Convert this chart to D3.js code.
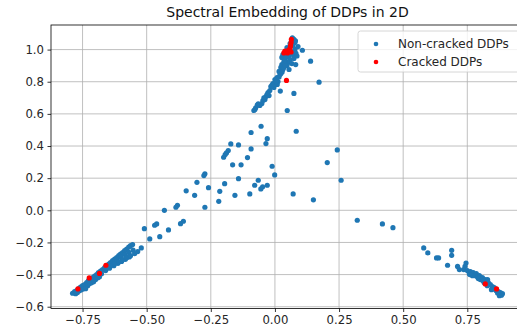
<!DOCTYPE html>
<html>
<head>
<meta charset="utf-8">
<script src="https://cdn.jsdelivr.net/npm/d3@7"></script>
<style>
  html, body { margin: 0; padding: 0; background: #fff; }
  #chart { width: 517px; height: 330px; overflow: hidden; }
  text { font-family: 'DejaVu Sans', sans-serif; }
</style>
</head>
<body>
<div id="chart"></div>
<script>
  var title = 'Spectral Embedding of DDPs in 2D';
  var seriesNames = ['Non-cracked DDPs', 'Cracked DDPs'];
  var xTicks = [-0.75, -0.5, -0.25, 0, 0.25, 0.5, 0.75];
  var yTicks = [-0.6, -0.4, -0.2, 0, 0.2, 0.4, 0.6, 0.8, 1.0];

  // non-cracked points, [x, y]
  var nonCracked = [
    [0.068, 1.073], [0.074, 1.063], [0.078, 1.044], [0.070, 1.026], [0.078, 1.001],
    [0.063, 0.988], [0.055, 0.963], [0.070, 0.969], [0.082, 0.976], [0.031, 0.969],
    [0.027, 0.951], [0.043, 0.951], [0.059, 0.938], [0.074, 0.945], [0.051, 0.920],
    [0.066, 0.913], [0.039, 0.926], [0.090, 1.019], [0.059, 1.038], [0.047, 1.013],
    [0.035, 0.926], [0.027, 0.907], [0.023, 0.889], [0.031, 0.876], [0.016, 0.864],
    [0.020, 0.845], [0.008, 0.826], [0.012, 0.801], [0.000, 0.814], [-0.008, 0.789],
    [-0.004, 0.764], [-0.016, 0.770], [-0.020, 0.745], [-0.027, 0.733], [-0.023, 0.714],
    [-0.035, 0.708], [-0.039, 0.689], [-0.047, 0.683], [-0.051, 0.664], [-0.059, 0.652],
    [-0.065, 0.663], [-0.069, 0.655], [-0.075, 0.638], [-0.078, 0.627], [-0.082, 0.621],
    [0.047, 0.901], [0.035, 0.889], [0.055, 0.876], [0.023, 0.851], [0.009, 0.783],
    [0.021, 0.742], [0.004, 0.800], [-0.012, 0.777], [0.016, 0.830], [-0.031, 0.720],
    [-0.043, 0.700], [0.028, 0.860], [0.040, 0.900], [0.086, 0.960], [0.080, 1.055],
    [0.107, 0.996], [0.139, 0.928], [0.081, 0.907], [0.172, 0.797], [0.074, 0.727],
    [0.048, 0.621],
    [-0.054, 0.523], [-0.093, 0.484], [0.083, 0.492], [-0.030, 0.446], [-0.035, 0.415],
    [-0.172, 0.413], [-0.142, 0.407], [-0.093, 0.382], [-0.182, 0.372], [-0.189, 0.357],
    [-0.194, 0.347], [-0.200, 0.330], [-0.107, 0.328], [0.243, 0.376], [0.204, 0.297],
    [-0.165, 0.283], [-0.132, 0.283], [-0.011, 0.274], [-0.001, 0.220], [-0.273, 0.227],
    [-0.277, 0.216], [-0.304, 0.174], [-0.142, 0.197], [-0.065, 0.187], [-0.196, 0.166],
    [-0.079, 0.156], [-0.030, 0.156], [-0.048, 0.146], [-0.055, 0.133], [0.258, 0.187],
    [-0.346, 0.121], [-0.259, 0.141], [-0.215, 0.118], [-0.313, 0.093], [-0.156, 0.093],
    [-0.098, 0.102], [0.071, 0.102], [0.150, 0.065], [-0.219, 0.056], [-0.380, 0.031],
    [-0.386, 0.019], [-0.273, 0.019], [-0.431, 0.000], [-0.461, -0.085], [-0.469, -0.093],
    [-0.357, -0.068], [-0.368, -0.083], [-0.415, -0.122], [-0.449, -0.164], [-0.488, -0.178],
    [-0.509, -0.114],
    [0.321, -0.062], [0.419, -0.085], [0.460, -0.108], [0.580, -0.234], [0.596, -0.265],
    [0.630, -0.296], [0.638, -0.296], [0.689, -0.249], [0.689, -0.280], [0.673, -0.342],
    [0.712, -0.349], [0.719, -0.369], [0.745, -0.328], [0.741, -0.349], [0.736, -0.369],
    [0.750, -0.375], [0.762, -0.381], [0.773, -0.388], [0.785, -0.394], [0.781, -0.407],
    [0.797, -0.407], [0.809, -0.419], [0.801, -0.431], [0.820, -0.431], [0.832, -0.450],
    [0.840, -0.463], [0.848, -0.475], [0.855, -0.481], [0.844, -0.494], [0.863, -0.500],
    [0.871, -0.506], [0.879, -0.512], [0.887, -0.519], [0.883, -0.528], [0.875, -0.531],
    [0.758, -0.394], [0.770, -0.407], [0.793, -0.425], [0.816, -0.450], [0.828, -0.469],
    [0.829, -0.431], [0.760, -0.400], [0.790, -0.415], [0.812, -0.440], [0.850, -0.490],
    [0.868, -0.515],
    [-0.789, -0.516], [-0.781, -0.506], [-0.773, -0.500], [-0.766, -0.488], [-0.758, -0.478],
    [-0.750, -0.469], [-0.742, -0.463], [-0.734, -0.450], [-0.727, -0.438], [-0.719, -0.428],
    [-0.711, -0.419], [-0.703, -0.410], [-0.695, -0.400], [-0.688, -0.388], [-0.680, -0.379],
    [-0.672, -0.369], [-0.664, -0.357], [-0.656, -0.344], [-0.648, -0.335], [-0.641, -0.326],
    [-0.633, -0.313], [-0.625, -0.304], [-0.617, -0.295], [-0.609, -0.282], [-0.602, -0.273],
    [-0.594, -0.263], [-0.586, -0.251], [-0.578, -0.242], [-0.570, -0.229], [-0.563, -0.220],
    [-0.555, -0.213],
    [-0.777, -0.519], [-0.762, -0.500], [-0.746, -0.488], [-0.730, -0.469], [-0.715, -0.450],
    [-0.699, -0.431], [-0.684, -0.413], [-0.707, -0.444], [-0.738, -0.488],
    [-0.770, -0.512], [-0.754, -0.494], [-0.722, -0.456], [-0.690, -0.419], [-0.676, -0.394],
    [-0.660, -0.375], [-0.645, -0.360], [-0.628, -0.345], [-0.612, -0.330], [-0.598, -0.318],
    [-0.583, -0.305], [-0.568, -0.290], [-0.617, -0.307], [-0.600, -0.290], [-0.585, -0.275],
    [-0.570, -0.262], [-0.553, -0.248],
    [-0.656, -0.357], [-0.641, -0.344], [-0.625, -0.332], [-0.609, -0.319], [-0.594, -0.307],
    [-0.578, -0.295], [-0.563, -0.282], [-0.547, -0.270], [-0.535, -0.257], [-0.521, -0.234]
  ];

  // cracked points, [x, y]
  var cracked = [
    [0.064, 1.063], [0.063, 1.044], [0.061, 1.026], [0.059, 1.010], [0.039, 0.991],
    [0.051, 0.994], [0.063, 0.985], [0.035, 0.979], [0.049, 0.979], [0.045, 0.808],
    [-0.768, -0.489], [-0.724, -0.421], [-0.684, -0.393], [-0.659, -0.342],
    [0.820, -0.458], [0.864, -0.489]
  ];

  function fmtMinus(s) { return s.replace('-', '\u2212'); }

  function createChart() {
    var margin = { top: 25, left: 51 };
    var width = 473;
    var height = 283.5;

    var svg = d3.select('#chart')
      .append('svg')
      .attr('width', 517)
      .attr('height', 330);

    var g = svg.append('g')
      .attr('transform', 'translate(' + margin.left + ',' + margin.top + ')');

    var x = d3.scaleLinear().domain([-0.873, 0.971]).range([0, width]);
    var y = d3.scaleLinear().domain([-0.611, 1.153]).range([height, 0]);

    // grid
    g.append('g').selectAll('line')
      .data(xTicks).enter().append('line')
      .attr('x1', function (d) { return x(d); })
      .attr('x2', function (d) { return x(d); })
      .attr('y1', 0).attr('y2', height)
      .attr('stroke', '#b0b0b0').attr('stroke-width', 0.8);

    g.append('g').selectAll('line')
      .data(yTicks).enter().append('line')
      .attr('y1', function (d) { return y(d); })
      .attr('y2', function (d) { return y(d); })
      .attr('x1', 0).attr('x2', width)
      .attr('stroke', '#b0b0b0').attr('stroke-width', 0.8);

    // axes
    var xAxis = g.append('g')
      .attr('transform', 'translate(0,' + height + ')')
      .call(d3.axisBottom(x).tickValues(xTicks).tickSize(3.5).tickPadding(3.5)
        .tickFormat(function (d) { return fmtMinus(d3.format('.2f')(d)); }));

    var yAxis = g.append('g')
      .call(d3.axisLeft(y).tickValues(yTicks).tickSize(3.5).tickPadding(3.5)
        .tickFormat(function (d) { return fmtMinus(d3.format('.1f')(d)); }));

    [xAxis, yAxis].forEach(function (ax) {
      ax.select('.domain').remove();
      ax.selectAll('line').attr('stroke', '#000').attr('stroke-width', 0.8);
      ax.selectAll('text')
        .style('font-size', '11.7px')
        .style('fill', '#262626')
        .style('font-family', "'DejaVu Sans', sans-serif");
    });

    // spines
    g.append('rect')
      .attr('x', 0).attr('y', 0)
      .attr('width', width).attr('height', height)
      .attr('fill', 'none')
      .attr('stroke', '#000')
      .attr('stroke-width', 0.8);

    // points
    g.append('g').selectAll('circle')
      .data(nonCracked).enter().append('circle')
      .attr('cx', function (d) { return x(d[0]); })
      .attr('cy', function (d) { return y(d[1]); })
      .attr('r', 2.6)
      .attr('fill', '#1f77b4');

    g.append('g').selectAll('circle')
      .data(cracked).enter().append('circle')
      .attr('cx', function (d) { return x(d[0]); })
      .attr('cy', function (d) { return y(d[1]); })
      .attr('r', 2.6)
      .attr('fill', '#ff0000');

    // title
    svg.append('text')
      .attr('x', margin.left + width / 2)
      .attr('y', 17)
      .attr('text-anchor', 'middle')
      .style('font-size', '14px')
      .style('fill', '#111')
      .text(title);

    // legend
    var legend = svg.append('g');
    legend.append('rect')
      .attr('x', 358).attr('y', 31)
      .attr('width', 162).attr('height', 41)
      .attr('rx', 2.5)
      .attr('fill', 'rgba(255,255,255,0.8)')
      .attr('stroke', '#cccccc')
      .attr('stroke-width', 0.8);

    var colors = ['#1f77b4', '#ff0000'];
    seriesNames.forEach(function (name, i) {
      legend.append('circle')
        .attr('cx', 376).attr('cy', 44 + i * 18)
        .attr('r', 2.3)
        .attr('fill', colors[i]);
      legend.append('text')
        .attr('x', 398).attr('y', 48 + i * 18)
        .style('font-size', '12px')
        .style('fill', '#262626')
        .text(name);
    });
  }

  createChart();
</script>
</body>
</html>
